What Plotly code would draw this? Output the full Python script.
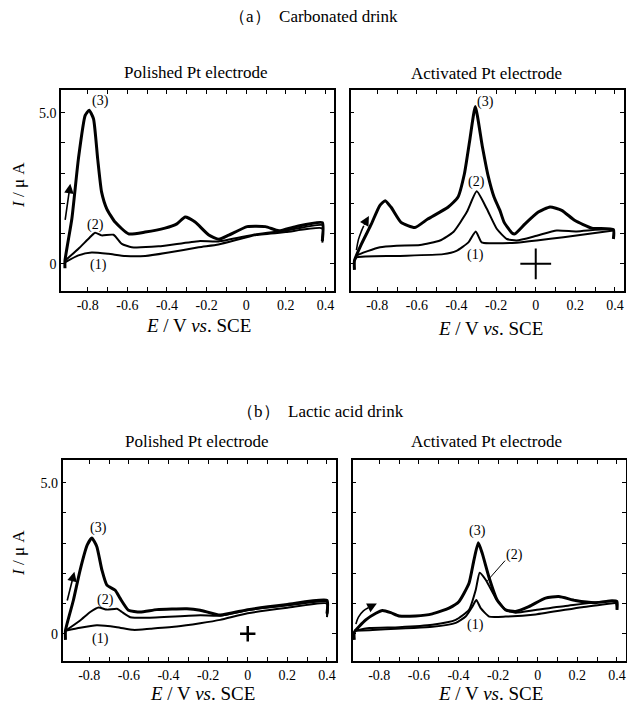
import plotly.graph_objects as go

W, H = 627, 712
SERIF = "Liberation Serif"

# ---------------- data: (a) carbonated drink, polished Pt ----------------
A_POL_E3 = [-0.915, -0.915, -0.88, -0.847, -0.813, -0.793, -0.771, -0.75, -0.73, -0.704, -0.662, -0.594,
            -0.51, -0.41, -0.35, -0.308, -0.258, -0.189, -0.138, -0.088, 0.005, 0.097, 0.165, 0.249, 0.384, 0.384]
A_POL_I3 = [-0.15, 0.1, 1.5, 3.48, 4.91, 5.08, 4.8, 3.48, 2.37, 1.82, 1.38, 0.99,
            1.05, 1.18, 1.32, 1.55, 1.38, 0.95, 0.81, 0.95, 1.23, 1.23, 1.09, 1.23, 1.36, 0.75]
A_POL_E2 = [-0.915, -0.847, -0.796, -0.763, -0.73, -0.67, -0.628, -0.578, -0.443, -0.24, -0.14, 0.05, 0.2, 0.384, 0.384]
A_POL_I2 = [0.1, 0.5, 0.83, 1.03, 0.94, 0.96, 0.66, 0.55, 0.58, 0.75, 0.74, 0.98, 1.1, 1.28, 0.85]
A_POL_E1 = [-0.915, -0.847, -0.78, -0.696, -0.61, -0.51, -0.392, -0.24, -0.14, 0.05, 0.2, 0.384, 0.384]
A_POL_I1 = [0.05, 0.28, 0.37, 0.33, 0.26, 0.26, 0.37, 0.55, 0.64, 0.95, 1.05, 1.17, 0.7]

# ---------------- data: (a) carbonated drink, activated Pt ----------------
A_ACT_E3 = [-0.915, -0.915, -0.88, -0.83, -0.788, -0.76, -0.73, -0.68, -0.61, -0.545, -0.443, -0.393, -0.36,
            -0.333, -0.305, -0.27, -0.24, -0.21, -0.18, -0.16, -0.12, -0.105, -0.054, 0.013, 0.072, 0.131,
            0.198, 0.283, 0.392, 0.392]
A_ACT_I3 = [-0.2, 0.1, 0.65, 1.31, 1.92, 2.09, 1.87, 1.37, 1.2, 1.48, 1.87, 2.2, 2.98,
            4.09, 5.2, 3.9, 2.9, 2.2, 1.75, 1.38, 1.02, 0.99, 1.32, 1.71, 1.88, 1.77,
            1.43, 1.18, 1.13, 0.82]
A_ACT_E2 = [-0.915, -0.904, -0.786, -0.702, -0.584, -0.483, -0.416, -0.348, -0.298, -0.247, -0.197, -0.146,
            -0.096, 0.005, 0.106, 0.207, 0.392, 0.392]
A_ACT_I2 = [0.1, 0.27, 0.55, 0.6, 0.62, 0.77, 1.05, 1.71, 2.4, 1.82, 1.16, 0.82,
            0.77, 0.93, 1.1, 1.07, 1.13, 0.85]
A_ACT_E1 = [-0.915, -0.904, -0.702, -0.467, -0.4, -0.34, -0.303, -0.273, -0.231, -0.096, 0.005, 0.14, 0.392]
A_ACT_I1 = [0.1, 0.21, 0.26, 0.32, 0.43, 0.71, 1.07, 0.71, 0.68, 0.7, 0.77, 0.88, 1.1]

# ---------------- data: (b) lactic acid drink, polished Pt ----------------
B_POL_E3 = [-0.92, -0.92, -0.88, -0.846, -0.81, -0.787, -0.762, -0.736, -0.711, -0.669, -0.644, -0.602,
            -0.543, -0.459, -0.307, -0.24, -0.139, 0.0, 0.2, 0.4, 0.4]
B_POL_I3 = [-0.2, 0.11, 1.11, 2.11, 2.94, 3.17, 2.89, 2.11, 1.61, 1.44, 1.17, 0.78,
            0.72, 0.8, 0.83, 0.78, 0.62, 0.8, 0.97, 1.11, 0.67]
B_POL_E2 = [-0.92, -0.846, -0.795, -0.753, -0.711, -0.66, -0.635, -0.593, -0.509, -0.24, -0.139, 0.0, 0.2, 0.4, 0.4]
B_POL_I2 = [0.1, 0.44, 0.72, 0.87, 0.8, 0.83, 0.72, 0.55, 0.53, 0.61, 0.6, 0.78, 0.94, 1.06, 0.6]
B_POL_E1 = [-0.92, -0.846, -0.762, -0.66, -0.577, -0.492, -0.358, -0.24, -0.139, 0.0, 0.2, 0.4, 0.4]
B_POL_I1 = [0.1, 0.2, 0.28, 0.22, 0.13, 0.17, 0.24, 0.35, 0.46, 0.68, 0.86, 1.0, 0.55]

# ---------------- data: (b) lactic acid drink, activated Pt ----------------
B_ACT_E3 = [-0.926, -0.926, -0.868, -0.817, -0.784, -0.742, -0.7, -0.616, -0.532, -0.448, -0.397, -0.347,
            -0.322, -0.3, -0.28, -0.247, -0.205, -0.162, -0.112, -0.045, 0.039, 0.106, 0.19, 0.291, 0.375,
            0.4, 0.4]
B_ACT_I3 = [-0.2, 0.05, 0.46, 0.68, 0.77, 0.7, 0.59, 0.59, 0.66, 0.85, 1.07, 1.67,
            2.44, 3.01, 2.66, 1.89, 1.12, 0.79, 0.74, 0.9, 1.18, 1.23, 1.1, 1.03, 1.09,
            1.07, 0.79]
B_ACT_E2 = [-0.926, -0.85, -0.7, -0.532, -0.414, -0.347, -0.313, -0.293, -0.262, -0.212, -0.162, -0.112,
            -0.011, 0.14, 0.39, 0.4]
B_ACT_I2 = [0.1, 0.19, 0.22, 0.3, 0.46, 0.79, 1.45, 2.02, 1.78, 1.18, 0.79, 0.7,
            0.79, 0.92, 1.07, 0.8]
B_ACT_E1 = [-0.926, -0.85, -0.532, -0.414, -0.364, -0.33, -0.31, -0.288, -0.245, -0.162, -0.011, 0.223, 0.39]
B_ACT_I1 = [0.1, 0.12, 0.23, 0.36, 0.57, 0.9, 1.12, 0.85, 0.57, 0.57, 0.64, 0.88, 1.02]

# ---------------- axes / tick labels ----------------
E_RANGE = [-0.935, 0.443]
I_RANGE = [-0.9, 5.75]
E_TICKS = [-0.8, -0.7, -0.6, -0.5, -0.4, -0.3, -0.2, -0.1, 0.0, 0.1, 0.2, 0.3, 0.4]
E_LABELS = ["-0.8", "", "-0.6", "", "-0.4", "", "-0.2", "", "0", "", "0.2", "", "0.4"]
I_TICKS = [0, 1, 2, 3, 4, 5]
I_LABELS_LEFT = ["0", "", "", "", "", "5.0"]
I_LABELS_RIGHT = ["", "", "", "", "", ""]

TITLE_A = "（a）  Carbonated drink"
TITLE_B = "（b）  Lactic acid drink"
SUB_POL = "Polished Pt electrode"
SUB_ACT = "Activated Pt electrode"
X_TITLE = "<i>E</i> / V <i>vs</i>. SCE"
Y_TITLE = "<i>I</i> / μ A"

# panel boxes in pixels (left, right, top, bottom)
BOXES = [(61, 334, 90, 291), (350.5, 623.5, 90, 291), (62.5, 335.5, 460, 661), (352.5, 625.5, 460, 661)]

panels = [
    [(A_POL_E1, A_POL_I1), (A_POL_E2, A_POL_I2), (A_POL_E3, A_POL_I3)],
    [(A_ACT_E1, A_ACT_I1), (A_ACT_E2, A_ACT_I2), (A_ACT_E3, A_ACT_I3)],
    [(B_POL_E1, B_POL_I1), (B_POL_E2, B_POL_I2), (B_POL_E3, B_POL_I3)],
    [(B_ACT_E1, B_ACT_I1), (B_ACT_E2, B_ACT_I2), (B_ACT_E3, B_ACT_I3)],
]

fig = go.Figure()
layout = {}
for k, (box, curves) in enumerate(zip(BOXES, panels)):
    n = "" if k == 0 else str(k + 1)
    l, r, t, b = box
    for j, (e, i) in enumerate(curves):
        fig.add_trace(go.Scatter(
            x=e, y=i, mode="lines", xaxis="x" + n, yaxis="y" + n,
            line=dict(color="black", width=3.0 if j == 2 else 2.0, shape="spline", smoothing=0.5),
            showlegend=False, hoverinfo="skip"))
    common = dict(showline=True, linecolor="black", linewidth=1.5, mirror="ticks",
                  ticks="inside", ticklen=4, tickwidth=1.2, tickcolor="black",
                  showgrid=False, zeroline=False,
                  tickfont=dict(family=SERIF, size=14, color="black"))
    layout["xaxis" + n] = dict(common, domain=[l / W, r / W], range=E_RANGE, anchor="y" + n,
                               tickmode="array", tickvals=E_TICKS, ticktext=E_LABELS)
    layout["yaxis" + n] = dict(common, domain=[1 - b / H, 1 - t / H], range=I_RANGE, anchor="x" + n,
                               tickmode="array", tickvals=I_TICKS,
                               ticktext=I_LABELS_LEFT if k % 2 == 0 else I_LABELS_RIGHT)

ann = []


def txt(text, px, py, size, **kw):
    ann.append(dict(text=text, x=px / W, y=1 - py / H, xref="paper", yref="paper", showarrow=False,
                    font=dict(family=SERIF, size=size, color="black"), xanchor="center", yanchor="middle", **kw))


txt(TITLE_A, 313, 17, 17)
txt(TITLE_B, 320, 411, 17)
txt(SUB_POL, 196, 72, 17)
txt(SUB_ACT, 486, 74, 17)
txt(SUB_POL, 197, 441, 17)
txt(SUB_ACT, 486, 441, 17)
txt(X_TITLE, 198, 326, 19)
txt(X_TITLE, 490, 328, 19)
txt(X_TITLE, 202, 693, 19)
txt(X_TITLE, 490, 693, 19)
txt(Y_TITLE, 18, 185, 17, textangle=-90)
txt(Y_TITLE, 18, 553, 17, textangle=-90)


def lab(text, x, y, n):
    ann.append(dict(text=text, x=x, y=y, xref="x" + n, yref="y" + n, showarrow=False,
                    font=dict(family=SERIF, size=14, color="black")))


lab("(3)", -0.735, 5.37, "")
lab("(2)", -0.76, 1.3, "")
lab("(1)", -0.745, -0.05, "")
lab("(3)", -0.256, 5.35, "2")
lab("(2)", -0.298, 2.72, "2")
lab("(1)", -0.303, 0.29, "2")
lab("(3)", -0.753, 3.5, "3")
lab("(2)", -0.72, 1.12, "3")
lab("(1)", -0.745, -0.17, "3")
lab("(3)", -0.303, 3.4, "4")
lab("(2)", -0.115, 2.62, "4")
lab("(1)", -0.314, 0.3, "4")


def arrow(x0, y0, x1, y1, n):
    ann.append(dict(x=x1, y=y1, ax=x0, ay=y0, xref="x" + n, yref="y" + n, axref="x" + n, ayref="y" + n,
                    showarrow=True, arrowhead=2, arrowsize=1.2, arrowwidth=1.6, arrowcolor="black", text=""))


arrow(-0.915, 1.4, -0.888, 2.65, "")
arrow(-0.913, 1.05, -0.875, 2.05, "3")
arrow(-0.87, 1.25, -0.842, 1.58, "2")
arrow(-0.855, 0.86, -0.812, 1.0, "4")
# curved arrow tails
fig.add_trace(go.Scatter(x=[-0.905, -0.895, -0.88, -0.868], y=[0.45, 0.8, 1.08, 1.26], mode="lines",
                         xaxis="x2", yaxis="y2", line=dict(color="black", width=1.6, shape="spline"),
                         showlegend=False, hoverinfo="skip"))
fig.add_trace(go.Scatter(x=[-0.918, -0.905, -0.88, -0.855], y=[0.32, 0.55, 0.76, 0.86], mode="lines",
                         xaxis="x4", yaxis="y4", line=dict(color="black", width=1.6, shape="spline"),
                         showlegend=False, hoverinfo="skip"))
# leader line for (2) in lactic/activated panel
fig.add_trace(go.Scatter(x=[-0.165, -0.255], y=[2.42, 1.75], mode="lines", xaxis="x4", yaxis="y4",
                         line=dict(color="black", width=1), showlegend=False, hoverinfo="skip"))
# "+" markers at origin
fig.add_trace(go.Scatter(x=[0], y=[0], mode="markers", xaxis="x2", yaxis="y2",
                         marker=dict(symbol="cross-thin", size=22, line=dict(color="black", width=2)),
                         showlegend=False, hoverinfo="skip"))
fig.add_trace(go.Scatter(x=[0], y=[0], mode="markers", xaxis="x3", yaxis="y3",
                         marker=dict(symbol="cross-thin", size=11, line=dict(color="black", width=2.5)),
                         showlegend=False, hoverinfo="skip"))

fig.update_layout(width=W, height=H, margin=dict(l=0, r=0, t=0, b=0),
                  paper_bgcolor="white", plot_bgcolor="white", annotations=ann, **layout)
fig.write_html("out.html", config={"displayModeBar": False},
               post_script="document.body.style.margin='0px';document.body.style.overflow='hidden';")
